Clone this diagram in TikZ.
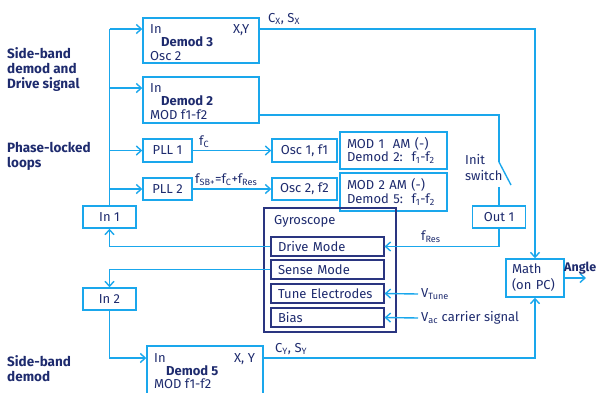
\documentclass[tikz,border=0pt]{standalone}
\usepackage{fontspec}
\setmainfont{Fira Sans}
\usetikzlibrary{arrows.meta}
\definecolor{lb}{HTML}{1AA7EC}
\definecolor{nv}{HTML}{1E2B6E}
\definecolor{gn}{HTML}{2A3580}
\begin{document}
\begin{tikzpicture}[x=1pt,y=-1pt,
  font=\fontsize{13}{13.5}\selectfont, text=nv,
  box/.style={draw=lb, line width=1.4pt, inner sep=0pt, fill=white},
  gbox/.style={draw=gn, line width=1.1pt, inner sep=0pt, align=left},
  conn/.style={draw=lb, line width=1.4pt},
  arr/.style={conn, -{Straight Barb[length=5pt,width=9pt]}},
  lbl/.style={anchor=base west, inner sep=0pt},
  head/.style={anchor=north west, inner sep=0pt, align=left, font=\fontsize{13.5}{15}\selectfont\bfseries},
]
\useasboundingbox (0,0) rectangle (597,392);

% headings
\node[head] (h1) at (7,47) {Side-band\\demod and\\Drive signal};
\node[head] (h2) at (7,142) {Phase-locked\\loops};
\node[head] (h3) at (7,355) {Side-band\\demod};

% demod boxes
\node[box, minimum width=116, minimum height=45] (d3) at (201,40.5) {};
\node[lbl] (d3in) at (150,33) {In};
\node[lbl, font=\fontsize{13}{13.5}\selectfont\bfseries] (d3n) at (161,46) {Demod 3};
\node[lbl] (d3o) at (150,60) {Osc 2};
\node[lbl] (d3xy) at (233,33) {X,Y};

\node[box, minimum width=116, minimum height=46] (d2) at (201,100) {};
\node[lbl] (d2in) at (150,92) {In};
\node[lbl, font=\fontsize{13}{13.5}\selectfont\bfseries] (d2n) at (161,105) {Demod 2};
\node[lbl] (d2m) at (150,119) {MOD f1-f2};

\node[box, minimum width=116, minimum height=54] (d5) at (205,373) {};
\node[lbl] (d5in) at (154,362) {In};
\node[lbl, font=\fontsize{13}{13.5}\selectfont\bfseries] (d5n) at (166,375) {Demod 5};
\node[lbl] (d5m) at (154,388) {MOD f1-f2};
\node[lbl] (d5xy) at (234,362) {X, Y};

% small boxes
\node[box, minimum width=49, minimum height=23] (pll1) at (167.5,150.5) {PLL 1};
\node[box, minimum width=49, minimum height=22] (pll2) at (167.5,189) {PLL 2};
\node[box, minimum width=53, minimum height=22] (in1) at (109.5,217) {In 1};
\node[box, minimum width=53, minimum height=22] (in2) at (109.5,299) {In 2};
\node[box, minimum width=65, minimum height=23] (osc1) at (304.5,150.5) {Osc 1, f1};
\node[box, minimum width=65, minimum height=22] (osc2) at (304.5,189) {Osc 2, f2};
\node[box, minimum width=107, minimum height=37, text width=93, align=left] (mod1) at (393.5,150.5)
  {MOD 1\ \ AM (-)\\Demod 2:\ \ f\textsubscript{1}-f\textsubscript{2}};
\node[box, minimum width=107, minimum height=38, text width=93, align=left] (mod2) at (393.5,192)
  {MOD 2 AM (-)\\Demod 5:\ \ f\textsubscript{1}-f\textsubscript{2}};
\node[box, minimum width=53, minimum height=22] (out1) at (499,217) {Out 1};
\node[box, minimum width=58, minimum height=38, text width=46, align=left,
  font=\fontsize{13}{16}\selectfont] (math) at (535,278) {Math\\(on PC)};

% gyroscope
\node[gbox, line width=1.5pt, minimum width=132, minimum height=124] (gyro) at (330,270) {};
\node[lbl] (gyl) at (274,224) {Gyroscope};
\node[gbox, minimum width=113, minimum height=19, text width=99] (drive) at (327.5,246.5) {Drive Mode};
\node[gbox, minimum width=113, minimum height=19, text width=99] (sense) at (327.5,269.5) {Sense Mode};
\node[gbox, minimum width=113, minimum height=19, text width=99] (tune) at (327.5,293.5) {Tune Electrodes};
\node[gbox, minimum width=113, minimum height=19, text width=99] (bias) at (327.5,317.5) {Bias};

% left bus
\coordinate (b3) at (109.5,29);
\coordinate (b2) at (109.5,88);
\draw[conn] (in1.north) -- (b3);
\draw[arr] (b3) -- (b3 -| d3.west);
\draw[arr] (b2) -- (b2 -| d2.west);
\draw[arr] (in1.north |- pll1.west) -- (pll1.west);
\draw[arr] (in1.north |- pll2.west) -- (pll2.west);

% gyro feedback
\draw[arr] (drive.west) -- (drive.west -| in1.south) -- (in1.south);
\draw[arr] (sense.west) -- (sense.west -| in2.north) -- (in2.north);
\coordinate (d5i) at (d5.west |- 0,358);
\draw[arr] (in2.south) |- (d5i);

% PLL -> Osc
\draw[arr] (pll1.east) -- (osc1.west);
\draw[arr] (pll2.east) -- (osc2.west);
\node[lbl] (fc) at (199,145) {f\textsubscript{C}};
\node[lbl] (fsb) at (195,183) {f\textsubscript{SB+}=f\textsubscript{C}+f\textsubscript{Res}};

% outputs to Math
\coordinate (d3o1) at (d3.east |- b3);
\draw[arr] (d3o1) -| (math.north);
\node[lbl] (cx) at (268,22) {C\textsubscript{X}, S\textsubscript{X}};
\coordinate (d5o1) at (d5.east |- d5i);
\draw[arr] (d5o1) -| (math.south);
\node[lbl] (cy) at (275,352) {C\textsubscript{Y}, S\textsubscript{Y}};

% Demod 2 -> switch -> Out 1
\coordinate (d2o) at (d2.east |- 0,115);
\coordinate (sw1) at (499,162);
\coordinate (sw2) at (511,185);
\coordinate (sw3) at (499,187);
\draw[conn] (d2o) -| (sw1);
\draw[conn] (sw1) -- (sw2);
\draw[conn] (sw3) -- (out1.north);
\node[lbl] (init) at (465,164) {Init};
\node[lbl] (swt) at (465,180) {switch};
\draw[arr] (out1.south) |- (drive.east);
\node[lbl] (fres) at (421,240) {f\textsubscript{Res}};

% tune / bias inputs
\node[anchor=west, inner sep=0pt] (vt) at (421,294) {V\textsubscript{Tune}};
\draw[arr] (vt.west -| 418,0) -- (tune.east);
\node[anchor=west, inner sep=0pt] (vac) at (421,318) {V\textsubscript{ac} carrier signal};
\draw[arr] (vac.west -| 418,0) -- (bias.east);

% angle
\coordinate (ang) at (586,278);
\draw[arr] (math.east) -- (ang);
\node[anchor=base west, inner sep=0pt, font=\fontsize{12.5}{15}\selectfont\bfseries] (angle) at (564,271) {Angle};
\end{tikzpicture}
\end{document}
